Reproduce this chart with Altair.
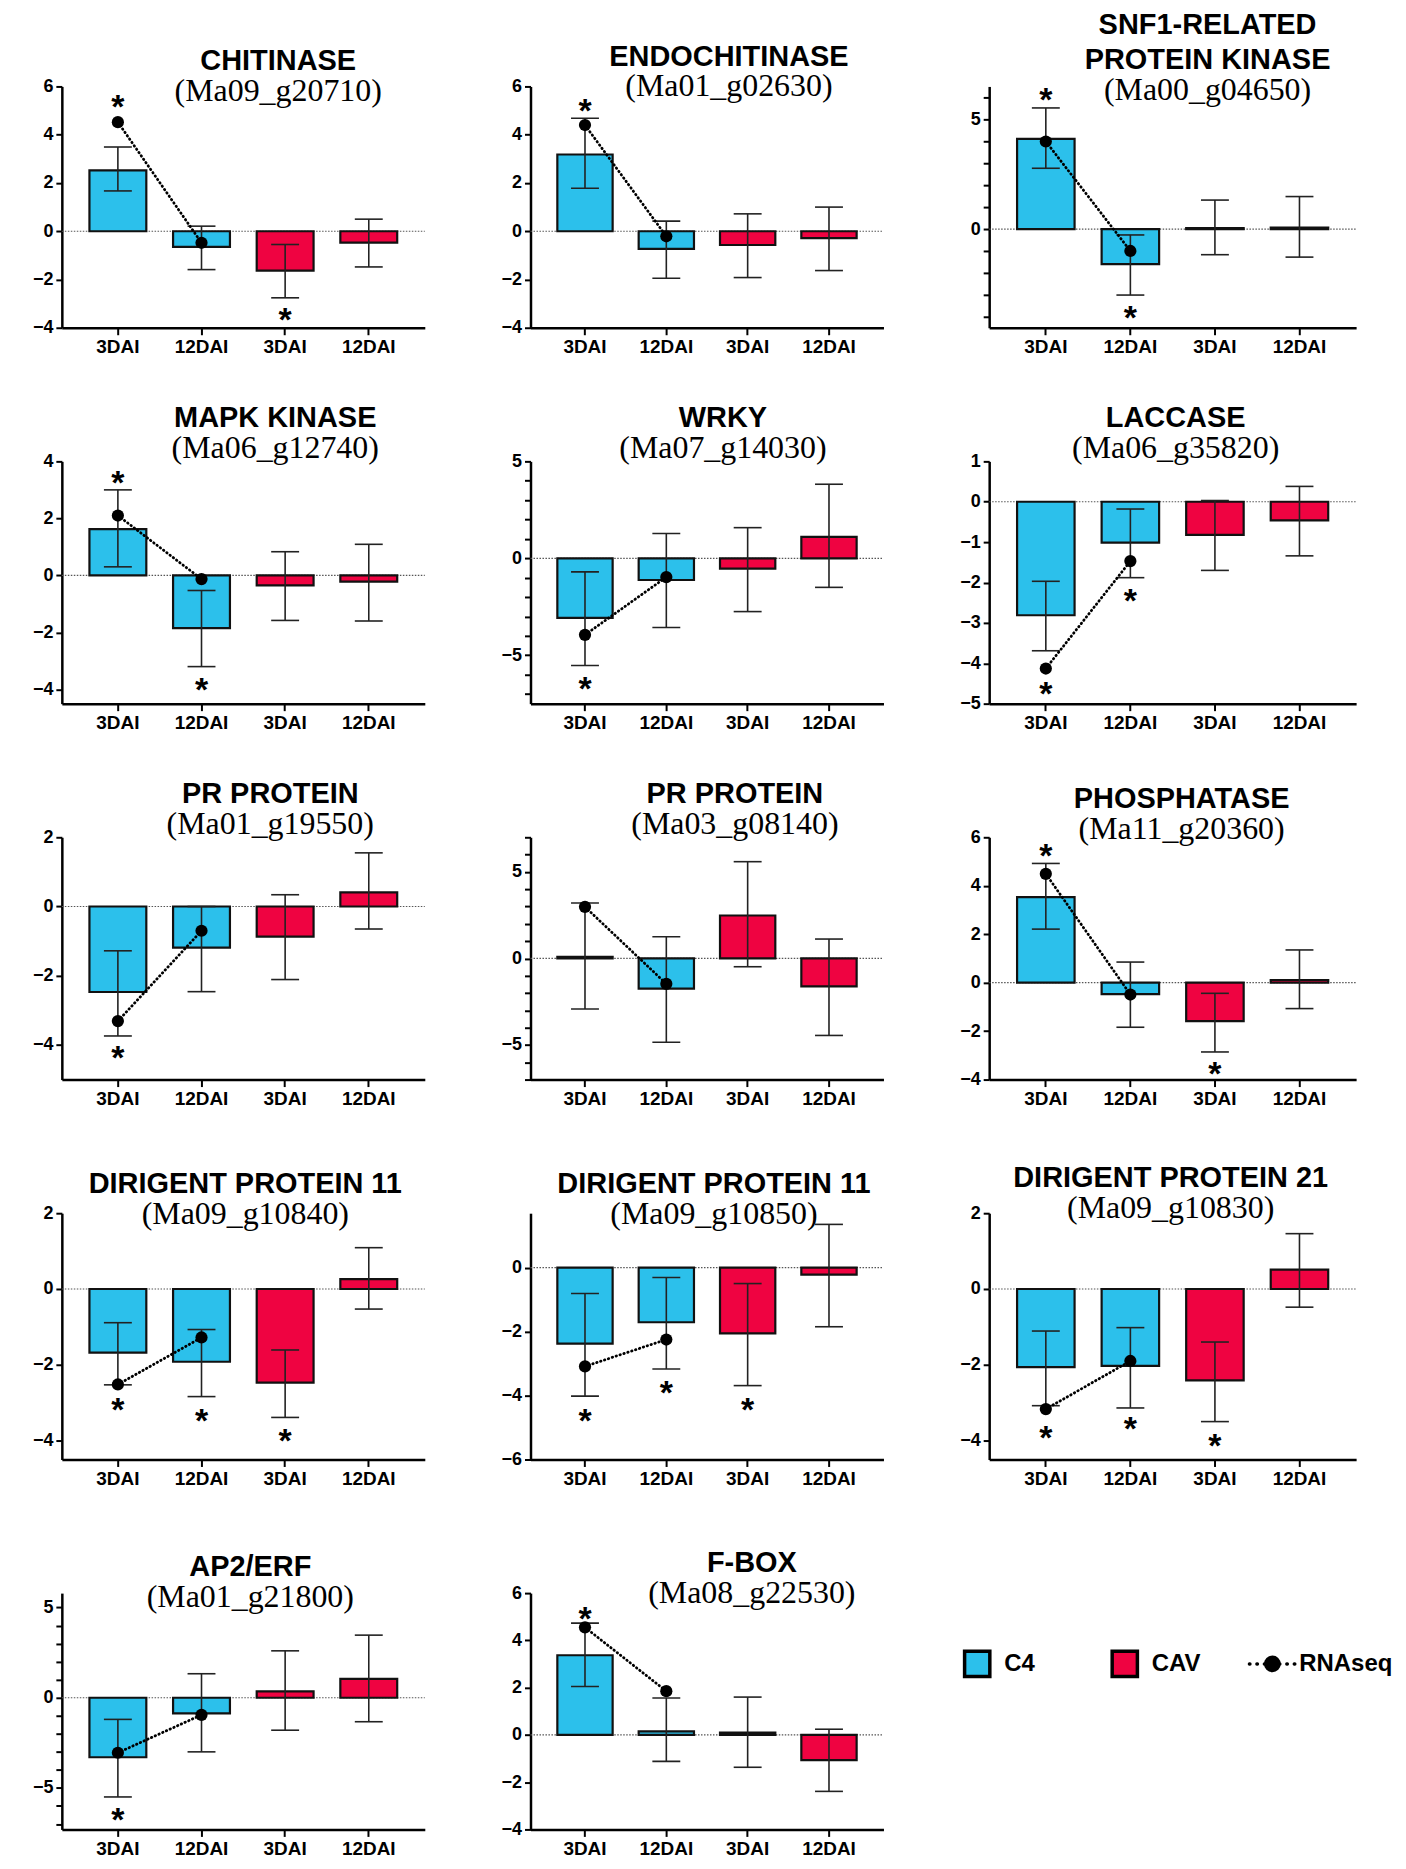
import altair as alt
import pandas as pd

# ---------------- data ----------------
gene_names = [["CHITINASE"], ["ENDOCHITINASE"], ["SNF1-RELATED", "PROTEIN KINASE"],
              ["MAPK KINASE"], ["WRKY"], ["LACCASE"],
              ["PR PROTEIN"], ["PR PROTEIN"], ["PHOSPHATASE"],
              ["DIRIGENT PROTEIN 11"], ["DIRIGENT PROTEIN 11"], ["DIRIGENT PROTEIN 21"],
              ["AP2/ERF"], ["F-BOX"]]
gene_ids = ["(Ma09_g20710)", "(Ma01_g02630)", "(Ma00_g04650)",
            "(Ma06_g12740)", "(Ma07_g14030)", "(Ma06_g35820)",
            "(Ma01_g19550)", "(Ma03_g08140)", "(Ma11_g20360)",
            "(Ma09_g10840)", "(Ma09_g10850)", "(Ma09_g10830)",
            "(Ma01_g21800)", "(Ma08_g22530)"]

groups = ["C4", "C4", "CAV", "CAV"]
timepoints = ["3DAI", "12DAI", "3DAI", "12DAI"]

bar_values = [
    [2.52, -0.65, -1.63, -0.47],
    [3.18, -0.73, -0.57, -0.29],
    [4.11, -1.60, 0.04, 0.06],
    [1.62, -1.85, -0.35, -0.22],
    [-3.07, -1.12, -0.53, 1.10],
    [-2.81, -1.01, -0.82, -0.46],
    [-2.47, -1.19, -0.87, 0.41],
    [0.09, -1.75, 2.48, -1.62],
    [3.53, -0.47, -1.59, 0.11],
    [-1.68, -1.92, -2.47, 0.26],
    [-2.38, -1.71, -2.06, -0.22],
    [-2.06, -2.03, -2.41, 0.51],
    [-3.30, -0.87, 0.35, 1.05],
    [3.37, 0.15, 0.10, -1.07],
]
err_low = [
    [1.67, -1.59, -2.76, -1.48],
    [1.78, -1.95, -1.92, -1.63],
    [2.77, -3.01, -1.17, -1.28],
    [0.30, -3.20, -1.58, -1.60],
    [-5.53, -3.57, -2.75, -1.50],
    [-3.69, -1.88, -1.70, -1.34],
    [-3.74, -2.46, -2.11, -0.65],
    [-2.92, -4.84, -0.48, -4.45],
    [2.21, -1.84, -2.86, -1.07],
    [-2.53, -2.84, -3.39, -0.53],
    [-4.02, -3.17, -3.69, -1.85],
    [-3.08, -3.14, -3.50, -0.48],
    [-5.50, -3.00, -1.80, -1.33],
    [2.05, -1.12, -1.37, -2.39],
]
err_high = [
    [3.49, 0.21, -0.55, 0.50],
    [4.68, 0.42, 0.72, 1.00],
    [5.52, -0.27, 1.32, 1.48],
    [3.00, -0.53, 0.83, 1.09],
    [-0.70, 1.28, 1.58, 3.82],
    [-1.97, -0.18, 0.03, 0.38],
    [-1.28, 0.00, 0.34, 1.55],
    [3.20, 1.25, 5.59, 1.12],
    [4.92, 0.85, -0.44, 1.35],
    [-0.89, -1.07, -1.61, 1.09],
    [-0.81, -0.31, -0.50, 1.35],
    [-1.11, -1.02, -1.40, 1.46],
    [-1.20, 1.33, 2.60, 3.47],
    [4.73, 1.56, 1.60, 0.24],
]
rnaseq = [
    [4.52, -0.48], [4.40, -0.21], [3.99, -1.00],
    [2.10, -0.13], [-3.95, -0.97], [-4.13, -1.47],
    [-3.31, -0.70], [2.98, -1.47], [4.49, -0.49],
    [-2.52, -1.28], [-3.09, -2.25], [-3.17, -1.90],
    [-3.05, -0.95], [4.55, 1.85],
]
star_bars = [[0, 2], [0], [0, 1], [0, 1], [0], [0, 1], [0], [], [0, 2],
             [0, 1, 2], [0, 1, 2], [0, 1, 2], [0], [0]]
star_y = [[5.42, -3.40], [5.26], [6.19, -3.75], [3.50, -3.78], [-6.37], [-4.60, -2.28],
          [-4.17], [], [5.50, -3.47], [-3.02, -3.29, -3.84], [-4.58, -3.70, -4.24],
          [-3.75, -3.52, -3.97], [-6.40], [5.20]]

y_domains = [[-4, 6], [-4, 6], [-4.5, 6.5], [-4.5, 4], [-7.5, 5], [-5, 1],
             [-5, 2], [-7, 7], [-4, 6], [-4.5, 2], [-6, 1.7], [-4.5, 2],
             [-7.3, 5.8], [-4, 6]]
y_ticks = [
    [-4, -2, 0, 2, 4, 6],
    [-4, -2, 0, 2, 4, 6],
    [-4, -3, -2, -1, 0, 1, 2, 3, 4, 5, 6],
    [-4, -2, 0, 2, 4],
    [-7, -6, -5, -4, -3, -2, -1, 0, 1, 2, 3, 4, 5],
    [-5, -4, -3, -2, -1, 0, 1],
    [-4, -2, 0, 2],
    [-7, -6, -5, -4, -3, -2, -1, 0, 1, 2, 3, 4, 5, 6, 7],
    [-4, -2, 0, 2, 4, 6],
    [-4, -2, 0, 2],
    [-6, -4, -2, 0],
    [-4, -2, 0, 2],
    [-7, -6, -5, -4, -3, -2, -1, 0, 1, 2, 3, 4, 5],
    [-4, -2, 0, 2, 4, 6],
]
y_labeled = [None, None, [0, 5], None, [-5, 0, 5], None, None, [-5, 0, 5],
             None, None, None, None, [-5, 0, 5], None]

legend_labels = ["C4", "CAV", "RNAseq"]
legend_kinds = ["bar", "bar", "line"]

# ---------------- style / layout ----------------
colors = ["#2CC0EB", "#EF0341"]
SANS = "Liberation Sans"
SERIF = "Liberation Serif"
col_widths = [364, 354, 368]
row_heights = [242, 243, 243, 247, 237]
title_dx = [35, 22, 35, 32, 16, 3, 27, 28, 9, 2, 7, -2, 7, 45]
title_offset = [-30, -25, -22, -12, -12, -12, -12, -4, -17, -26, -17, -20, -20, -25]

cats = [f"{g}|{t}" for g, t in zip(groups, timepoints)]


def make_panel(i, w, h):
    xenc = alt.X("cat:N", sort=cats,
                 scale=alt.Scale(domain=cats, paddingInner=0.32, paddingOuter=0.33),
                 axis=alt.Axis(labelExpr="split(datum.value, '|')[1]", labelAngle=0,
                               labelFontSize=19, labelPadding=3, tickSize=7),
                 title=None)
    if y_labeled[i] is None:
        yaxis = alt.Axis(values=y_ticks[i], labelFontSize=18, tickSize=6,
                         labelPadding=3, title=None)
    else:
        arr = ",".join(str(v) for v in y_labeled[i])
        yaxis = alt.Axis(values=y_ticks[i], labelFontSize=18, tickSize=6,
                         labelPadding=3, title=None,
                         labelExpr=f"indexof([{arr}], datum.value) >= 0 ? datum.label : ''")
    ysc = alt.Scale(domain=y_domains[i], nice=False, zero=False)

    def Y(field):
        return alt.Y(field, scale=ysc, axis=yaxis, title=None)

    bars_df = pd.DataFrame({"cat": cats, "group": groups, "value": bar_values[i],
                            "lo": err_low[i], "hi": err_high[i]})
    rna_df = pd.DataFrame({"cat": cats[:2], "value": rnaseq[i]})

    zero = alt.Chart(pd.DataFrame({"z": [0]})).mark_rule(
        color="#555", strokeDash=[1.5, 1.5], strokeWidth=1.2
    ).encode(y=Y("z:Q"), x=alt.value(0), x2=alt.value(w))

    bars = alt.Chart(bars_df).mark_bar(stroke="#111", strokeWidth=2.2).encode(
        x=xenc, y=Y("value:Q"), y2=alt.datum(0),
        fill=alt.Fill("group:N", scale=alt.Scale(domain=["C4", "CAV"], range=colors),
                      legend=None))

    err = alt.Chart(bars_df).mark_rule(color="#222", strokeWidth=1.6).encode(
        x=xenc, y=Y("lo:Q"), y2="hi:Q")

    caps = alt.Chart(bars_df).transform_fold(["lo", "hi"], as_=["k", "v"]).mark_tick(
        orient="horizontal", size=28, thickness=1.6, color="#222", opacity=1
    ).encode(x=xenc, y=Y("v:Q"))

    line = alt.Chart(rna_df).mark_line(
        color="black", strokeDash=[0.5, 3.6], strokeCap="round", strokeWidth=2.8
    ).encode(x=xenc, y=Y("value:Q"))

    pts = alt.Chart(rna_df).mark_circle(size=150, color="black", opacity=1).encode(
        x=xenc, y=Y("value:Q"))

    layers = [zero, bars, err, caps, line, pts]
    if star_bars[i]:
        st_df = pd.DataFrame({"cat": [cats[j] for j in star_bars[i]], "y": star_y[i]})
        stars = alt.Chart(st_df).mark_text(
            text="*", font=SANS, fontSize=34, fontWeight="bold", color="black",
            baseline="middle", dy=8
        ).encode(x=xenc, y=Y("y:Q"))
        layers.append(stars)

    title = alt.TitleParams(
        text=gene_names[i] if len(gene_names[i]) > 1 else gene_names[i][0],
        subtitle=gene_ids[i],
        font=SANS, fontSize=29, fontWeight="bold", color="black", lineHeight=35,
        subtitleFont=SERIF, subtitleFontSize=32, subtitleFontWeight="normal",
        subtitleColor="black", subtitlePadding=0,
        anchor="middle", frame="group", dx=title_dx[i], offset=title_offset[i])

    return alt.layer(*layers).properties(width=w, height=h, title=title)


def make_legend(w, h):
    leg = pd.DataFrame({"item": legend_labels, "kind": legend_kinds})
    base = alt.Chart(leg).encode(
        x=alt.X("item:N", sort=legend_labels,
                scale=alt.Scale(type="point", domain=legend_labels, range=[-12, 284],
                                paddingOuter=0, padding=0),
                axis=None),
        y=alt.value(71))
    squares = base.transform_filter("datum.kind == 'bar'").mark_square(
        size=640, stroke="black", strokeWidth=3.5, opacity=1
    ).encode(fill=alt.Fill("item:N", scale=alt.Scale(domain=["C4", "CAV"], range=colors),
                           legend=None))
    dots = base.transform_filter("datum.kind == 'line'").mark_rule(
        color="black", strokeDash=[0.5, 7], strokeCap="round", strokeWidth=3.5,
        xOffset=-23, x2Offset=23
    ).encode(x2=alt.X2("item:N"))
    circ = base.transform_filter("datum.kind == 'line'").mark_circle(
        size=280, color="black", opacity=1)
    txt = base.mark_text(align="left", baseline="middle", dx=27, font=SANS,
                         fontSize=24, fontWeight="bold", color="black").encode(
        text="item:N")
    return alt.layer(squares, dots, circ, txt).properties(width=w, height=h)


cells = []
for i in range(len(gene_ids)):
    cells.append(make_panel(i, col_widths[i % 3], row_heights[i // 3]))
n = len(gene_ids)
cells.append(make_legend(col_widths[n % 3], row_heights[n // 3]))

chart = alt.concat(*cells, columns=3, spacing={"row": 134, "column": 106},
                   bounds="flush", align="each").properties(
    padding={"left": 24, "top": 0, "right": 5, "bottom": 0}
).configure_view(stroke=None).configure_axis(
    labelFont=SANS, labelFontWeight="bold", labelColor="black",
    domainColor="black", domainWidth=2.5, tickColor="black", tickWidth=2,
    grid=False
).configure_axisY(labelFontSize=18).configure_axisX(labelFontSize=19)

chart.save("out.html", embed_options={"renderer": "svg", "actions": False})
